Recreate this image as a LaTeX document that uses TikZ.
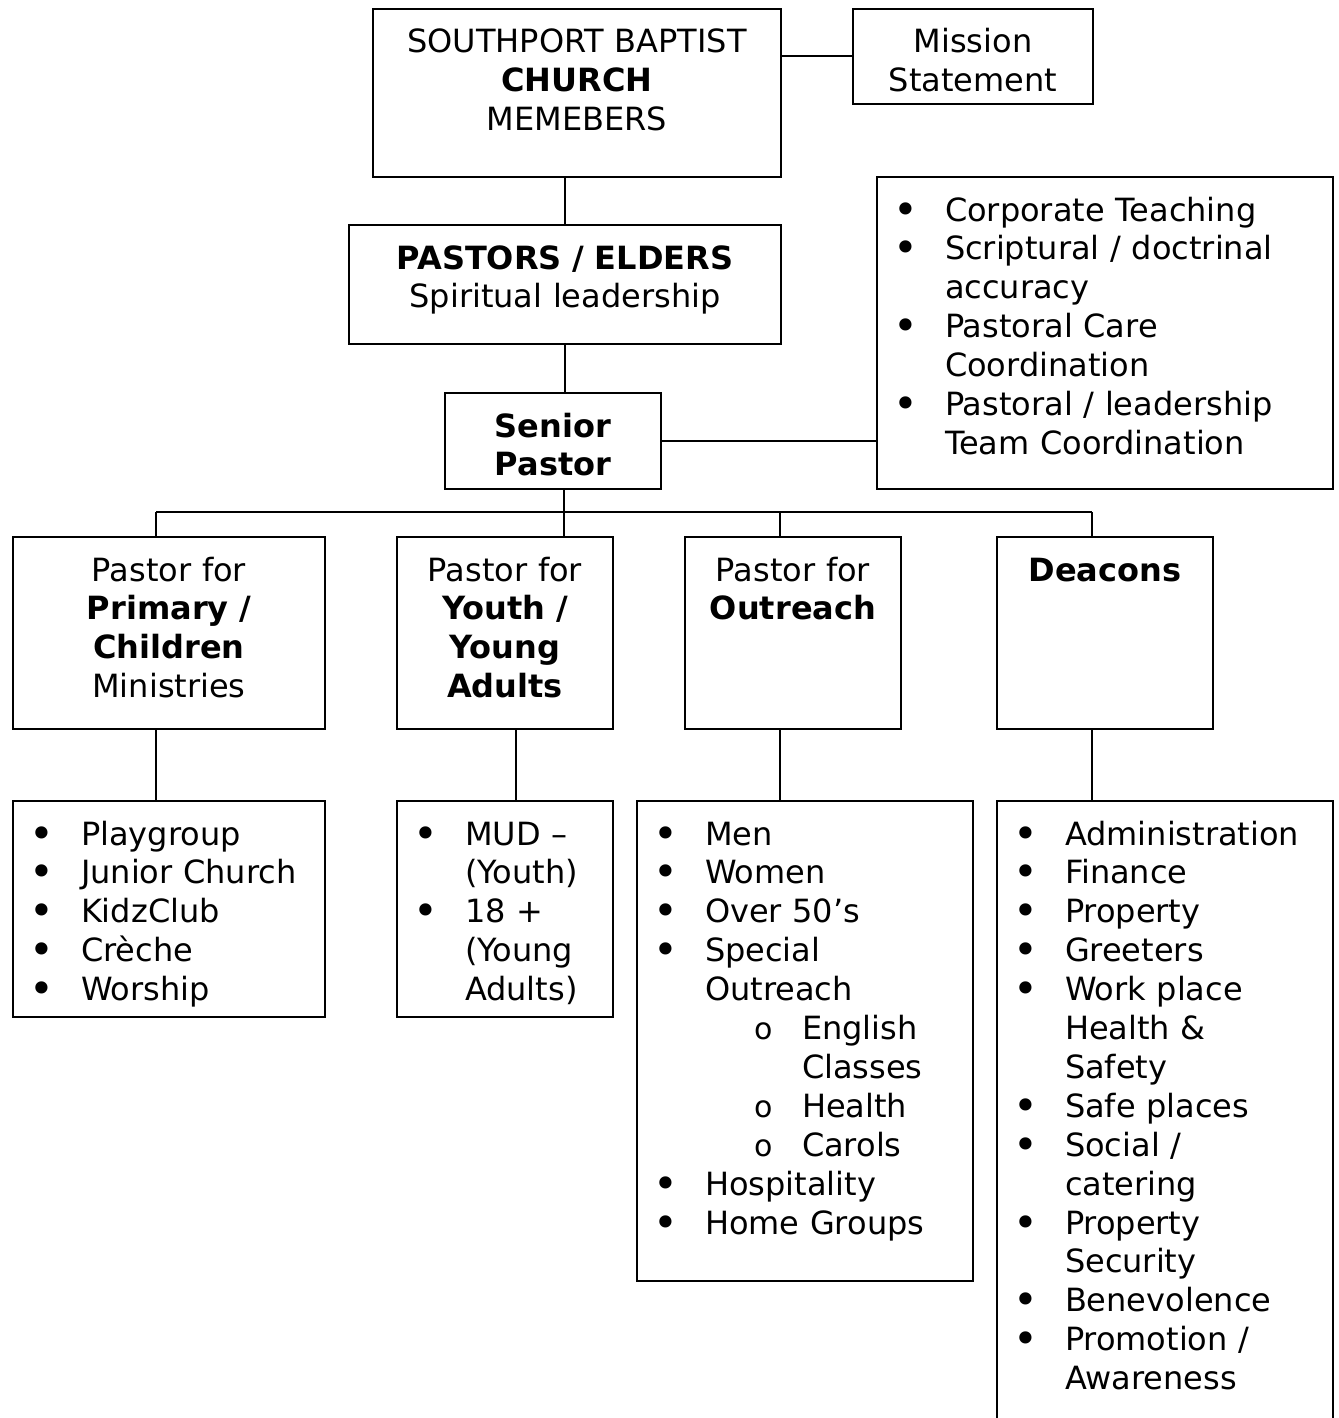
\documentclass[tikz,border=0pt]{standalone}
\usepackage{fontspec}
\setmainfont{DejaVu Sans}
% list lines: bullet item, its continuation, sub item, its continuation
\newcommand{\itm}[1]{\hspace*{16pt}\makebox[52pt][l]{\raisebox{-3pt}{\fontsize{42}{0}\selectfont\textbullet}}#1}
\newcommand{\itmc}[1]{\hspace*{68pt}#1}
\newcommand{\subitm}[1]{\hspace*{117pt}\makebox[48pt][l]{\fontsize{30}{0}\selectfont o}#1}
\newcommand{\subitmc}[1]{\hspace*{165pt}#1}
\begin{document}
\begin{tikzpicture}[x=1pt,y=-1pt,
    box/.style={draw, line width=2pt, anchor=north west, inner sep=0pt,
      text height=44pt, font=\fontsize{32}{38.9}\selectfont},
    cbox/.style={box, align=center},
    lbox/.style={box, align=left},
    link/.style={line width=2pt}]
    \useasboundingbox (0,0) rectangle (1338,1418);
    \clip (0,0) rectangle (1338,1418);
    % top
    \node[cbox, text width=408pt, text depth=124pt] (church) at (372,8)
      {SOUTHPORT BAPTIST\\\textbf{CHURCH}\\MEMEBERS};
    \node[cbox, text width=240pt, text depth=51pt] (mission) at (852,8)
      {Mission\\Statement};
    \node[cbox, text width=432pt, text depth=75pt] (pastors) at (348,224)
      {\textbf{PASTORS / ELDERS}\\Spiritual leadership};
    \node[cbox, text width=216pt, text depth=52pt] (senior) at (444,392)
      {\textbf{Senior}\\\textbf{Pastor}};
    \node[lbox, text width=456pt, text depth=268pt] (duties) at (876,176)
      {\itm{Corporate Teaching}\\\itm{Scriptural / doctrinal}\\\itmc{accuracy}\\
       \itm{Pastoral Care}\\\itmc{Coordination}\\\itm{Pastoral / leadership}\\
       \itmc{Team Coordination}};
    % ministries
    \node[cbox, text width=312pt, text depth=148pt] (primary) at (12,536)
      {Pastor for\\\textbf{Primary /}\\\textbf{Children}\\Ministries};
    \node[cbox, text width=216pt, text depth=148pt] (youth) at (396,536)
      {Pastor for\\\textbf{Youth /}\\\textbf{Young}\\\textbf{Adults}};
    \node[cbox, text width=216pt, text depth=148pt] (outreach) at (684,536)
      {Pastor for\\\textbf{Outreach}};
    \node[cbox, text width=216pt, text depth=148pt] (deacons) at (996,536)
      {\textbf{Deacons}};
    % lists
    \node[lbox, text width=312pt, text depth=172pt] (kids) at (12,800)
      {\itm{Playgroup}\\\itm{Junior Church}\\\itm{KidzClub}\\\itm{Crèche}\\\itm{Worship}};
    \node[lbox, text width=216pt, text depth=172pt] (teens) at (396,800)
      {\itm{MUD –}\\\itmc{(Youth)}\\\itm{18 +}\\\itmc{(Young}\\\itmc{Adults)}};
    \node[lbox, text width=336pt, text depth=436pt] (outlist) at (636,800)
      {\itm{Men}\\\itm{Women}\\\itm{Over 50's}\\\itm{Special}\\\itmc{Outreach}\\
       \subitm{English}\\\subitmc{Classes}\\\subitm{Health}\\\subitm{Carols}\\
       \itm{Hospitality}\\\itm{Home Groups}};
    \node[lbox, text width=336pt, text depth=616pt] (deaconlist) at (996,800)
      {\itm{Administration}\\\itm{Finance}\\\itm{Property}\\\itm{Greeters}\\
       \itm{Work place}\\\itmc{Health \&}\\\itmc{Safety}\\\itm{Safe places}\\
       \itm{Social /}\\\itmc{catering}\\\itm{Property}\\\itmc{Security}\\
       \itm{Benevolence}\\\itm{Promotion /}\\\itmc{Awareness}};
    % connectors
    \draw[link] (mission.west) -- (mission.west -| church.east);
    \draw[link] (pastors.north) -- (pastors.north |- church.south);
    \draw[link] (pastors.south) -- (pastors.south |- senior.north);
    \draw[link] (senior.east) -- (senior.east -| duties.west);
    \coordinate (b1) at (156,512);
    \coordinate (b2) at (564,512);
    \coordinate (b3) at (780,512);
    \coordinate (b4) at (1092,512);
    \draw[link] (b2 |- senior.south) -- (b2);
    \draw[link] (b1) -- (b4);
    \foreach \b/\n in {b1/primary, b2/youth, b3/outreach, b4/deacons}
      \draw[link] (\b) -- (\b |- \n.north);
    \coordinate (c1) at (156,764);
    \coordinate (c2) at (516,764);
    \coordinate (c3) at (780,764);
    \coordinate (c4) at (1092,764);
    \foreach \c/\u/\l in {c1/primary/kids, c2/youth/teens, c3/outreach/outlist, c4/deacons/deaconlist}
      \draw[link] (\c |- \u.south) -- (\c |- \l.north);
\end{tikzpicture}
\end{document}
